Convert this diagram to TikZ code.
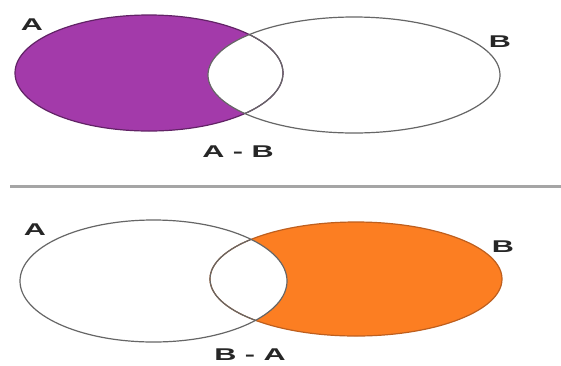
\documentclass[tikz,border=0pt]{standalone}
\usepackage{fontspec}
\setmainfont{Liberation Sans}
\definecolor{setpurple}{RGB}{163,58,170}
\definecolor{setorange}{RGB}{252,126,34}
\definecolor{orangeedge}{RGB}{190,95,30}
\definecolor{rulegray}{RGB}{165,165,165}
\begin{document}
\begin{tikzpicture}[x=1pt,y=-1pt,
  lbl/.style={font=\fontsize{17}{19}\selectfont\bfseries, text=black!85, inner sep=0pt},
  outline/.style={draw=black!60, line width=1.2pt}]
\useasboundingbox (0,0) rectangle (561,365);
\fill[white] (0,0) rectangle (561,365);
% top diagram: A - B
\coordinate (a1) at (149,73);
\coordinate (b1) at (354,75);
\fill[setpurple] (a1) ellipse [x radius=134, y radius=58];
\fill[white] (b1) ellipse [x radius=146, y radius=58];
\draw[draw=setpurple!60!black, line width=1.2pt] (a1) ellipse [x radius=134, y radius=58];
\draw[outline] (b1) ellipse [x radius=146, y radius=58];
\begin{scope}
  \clip (b1) ellipse [x radius=146, y radius=58];
  \draw[outline] (a1) ellipse [x radius=134, y radius=58];
\end{scope}
\node[lbl] (la1) at (32,25) {\scalebox{1.8}[1]{A}};
\node[lbl] (lb1) at (500,42) {\scalebox{1.8}[1]{B}};
\node[lbl] (ld1) at (238,152) {\scalebox{1.8}[1]{A - B}};
% separator
\coordinate (s1) at (10,186);
\coordinate (s2) at (561,186);
\draw[rulegray, line width=3pt] (s1) -- (s2);
% bottom diagram: B - A
\coordinate (a2) at (153.5,281);
\coordinate (b2) at (356,279);
\fill[setorange] (b2) ellipse [x radius=146, y radius=57];
\fill[white] (a2) ellipse [x radius=133.5, y radius=61];
\draw[draw=orangeedge, line width=1.2pt] (b2) ellipse [x radius=146, y radius=57];
\draw[outline] (a2) ellipse [x radius=133.5, y radius=61];
\begin{scope}
  \clip (a2) ellipse [x radius=133.5, y radius=61];
  \draw[outline] (b2) ellipse [x radius=146, y radius=57];
\end{scope}
\node[lbl] (la2) at (35,230) {\scalebox{1.8}[1]{A}};
\node[lbl] (lb2) at (503,247) {\scalebox{1.8}[1]{B}};
\node[lbl] (ld2) at (250,355) {\scalebox{1.8}[1]{B - A}};
\end{tikzpicture}
\end{document}
